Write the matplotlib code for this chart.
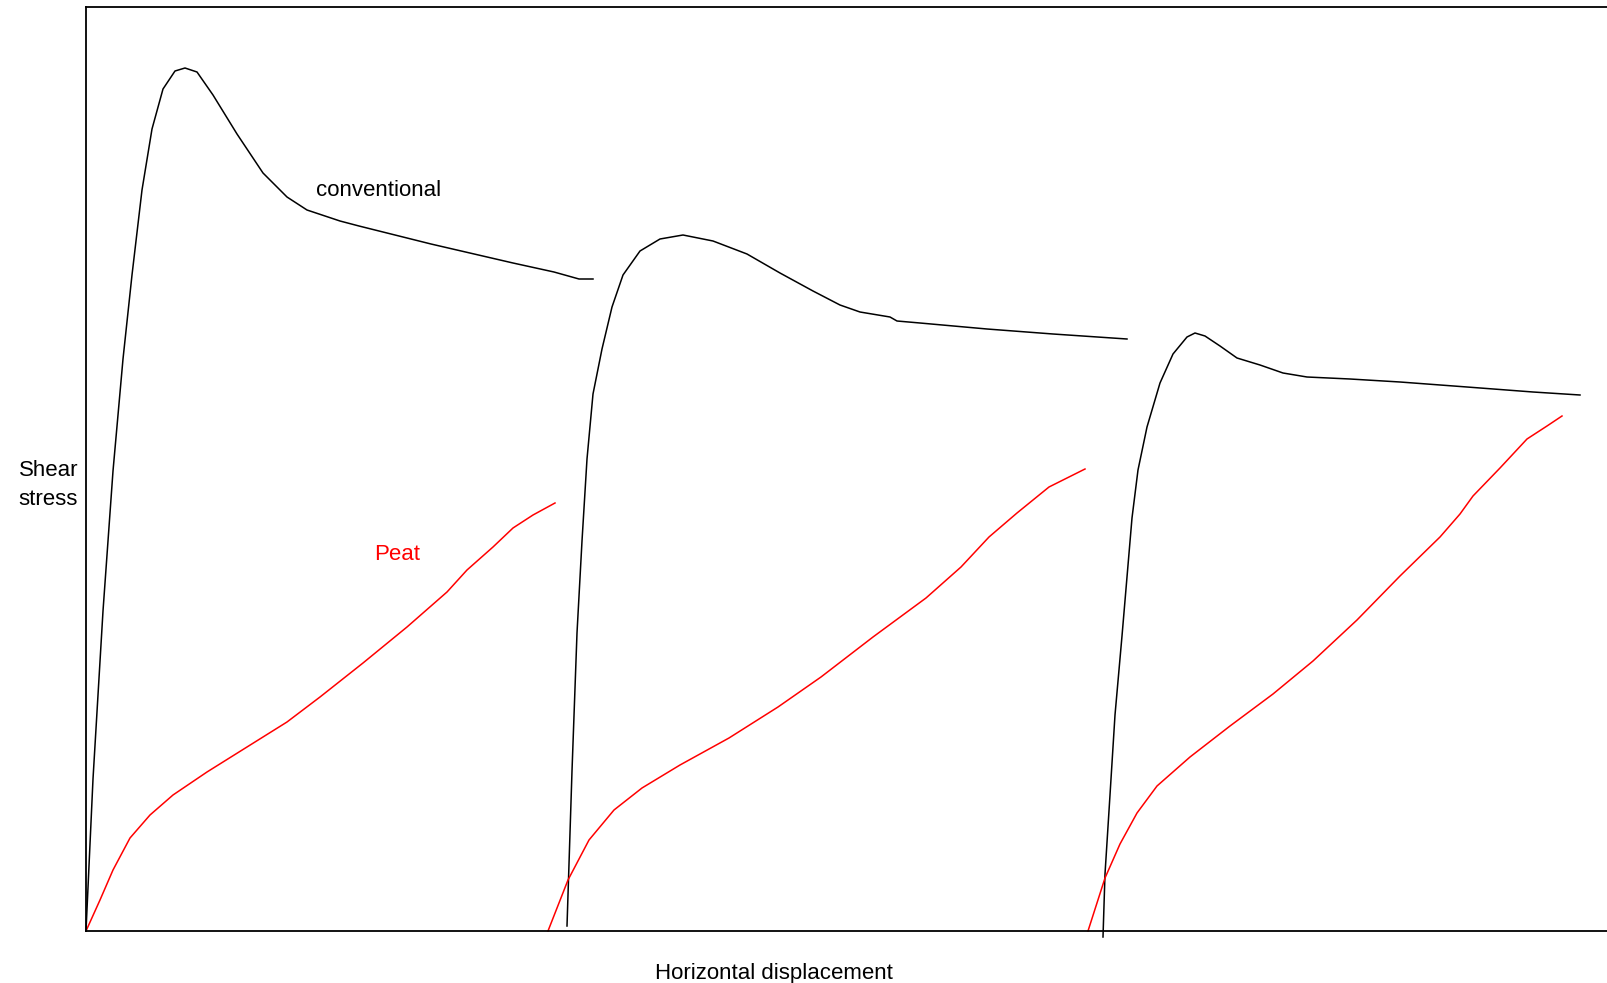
import matplotlib
matplotlib.use("Agg")
import matplotlib.pyplot as plt

plt.rcParams['font.family'] = ['Liberation Sans', 'DejaVu Sans']

# conventional soil: three shear stages (displacement, stress)
conv1_x = [0, 7, 17, 27, 37, 46, 56, 66, 77, 89, 99, 111, 127, 151, 177, 201, 221, 254, 273, 345, 427, 468, 493, 507]
conv1_y = [0, 152, 320, 460, 572, 656, 741, 802, 842, 860, 863, 859, 836, 797, 758, 734, 721, 710, 705, 687, 668, 659, 652, 652]

conv2_x = [481, 486, 491, 496, 501, 507, 516, 526, 537, 554, 574, 597, 627, 661, 694, 727, 754, 774, 804, 811, 834, 901, 967, 1041]
conv2_y = [5, 160, 298, 390, 472, 537, 582, 624, 656, 680, 692, 696, 690, 677, 658, 640, 626, 619, 614, 610, 608, 602, 597, 592]

conv3_x = [1017, 1019, 1024, 1029, 1036, 1041, 1046, 1052, 1061, 1074, 1087, 1101, 1109, 1119, 1134, 1151, 1174, 1197, 1221, 1264, 1314, 1381, 1447, 1494]
conv3_y = [-6, 57, 136, 216, 295, 354, 413, 461, 504, 548, 577, 594, 598, 595, 585, 573, 566, 558, 554, 552, 549, 544, 539, 536]

# peat: three shear stages
peat1_x = [0, 14, 27, 44, 64, 87, 121, 161, 201, 234, 277, 321, 361, 381, 407, 427, 447, 469]
peat1_y = [0, 31, 61, 93, 116, 136, 159, 184, 209, 234, 268, 304, 339, 361, 384, 403, 416, 428]

peat2_x = [462, 482, 503, 528, 556, 594, 643, 692, 735, 787, 840, 875, 903, 931, 963, 999]
peat2_y = [0, 51, 91, 121, 143, 166, 193, 224, 254, 294, 333, 364, 394, 418, 444, 462]

peat3_x = [1002, 1019, 1034, 1051, 1071, 1104, 1144, 1187, 1227, 1271, 1314, 1354, 1374, 1387, 1414, 1441, 1461, 1476]
peat3_y = [0, 53, 87, 118, 145, 174, 205, 237, 270, 311, 355, 394, 417, 435, 463, 492, 505, 515]

fig = plt.figure(figsize=(16.08, 9.83), dpi=100)
ax = fig.add_axes([86 / 1608, 1 - 931 / 983, (1608 - 86) / 1608, (931 - 7) / 983])

for xs, ys in [(conv1_x, conv1_y), (conv2_x, conv2_y), (conv3_x, conv3_y)]:
    ax.plot(xs, ys, color='black', lw=1.1, clip_on=False, solid_joinstyle='round')
for xs, ys in [(peat1_x, peat1_y), (peat2_x, peat2_y), (peat3_x, peat3_y)]:
    ax.plot(xs, ys, color='red', lw=1.1, clip_on=False, solid_joinstyle='round')

ax.set_xlim(0, 1522)
ax.set_ylim(0, 924)
ax.set_xticks([])
ax.set_yticks([])
ax.spines['right'].set_visible(False)
for s in ['left', 'top', 'bottom']:
    ax.spines[s].set_linewidth(1.3)

ax.text(293, 740, 'conventional', fontsize=16, ha='center', va='center')
ax.text(311, 376, 'Peat', fontsize=16, color='red', ha='center', va='center')

fig.text(774 / 1608, 1 - 974 / 983, 'Horizontal displacement', fontsize=16, ha='center', va='center')
fig.text(78 / 1608, 1 - 485 / 983, 'Shear\nstress', fontsize=16, ha='right', va='center',
         multialignment='right', linespacing=1.45)

fig.savefig('out.png', dpi=100)
